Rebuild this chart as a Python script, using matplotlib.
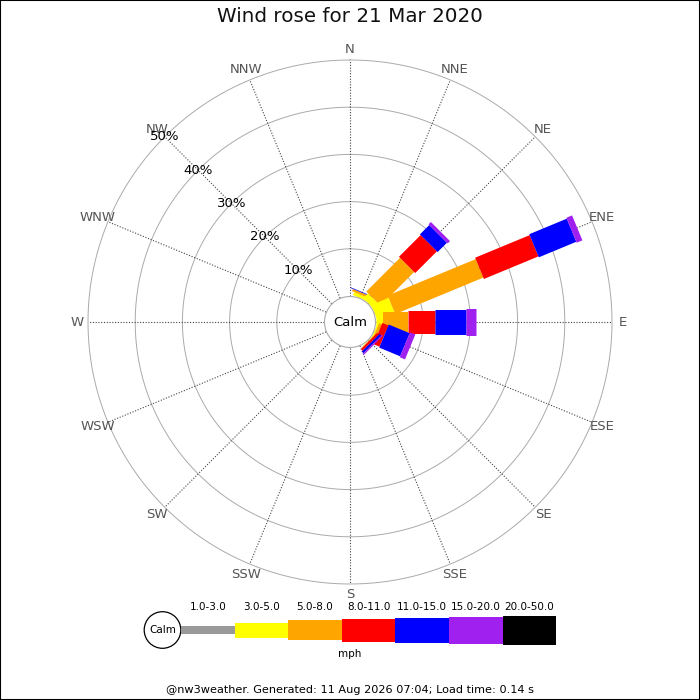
import matplotlib
matplotlib.use("Agg")
import numpy as np
import matplotlib.pyplot as plt
from matplotlib.patches import Rectangle, Circle

# wind rose data (% of time), one list per speed bin, 16 directions from N clockwise
directions = ['N', 'NNE', 'NE', 'ENE', 'E', 'ESE', 'SE', 'SSE',
              'S', 'SSW', 'SW', 'WSW', 'W', 'WNW', 'NW', 'NNW']
speed_bins = ['1.0-3.0', '3.0-5.0', '5.0-8.0', '8.0-11.0',
              '11.0-15.0', '15.0-20.0', '20.0-50.0']
bin_colors = ['#999999', '#ffff00', '#ffa500', '#ff0000',
              '#0000ff', '#a020f0', '#000000']
bin_px = [8, 15, 20, 23, 25, 27, 29]   # bar thickness in pixels

s_1_3   = [0, 0,    0,    0,    0,   0,   0,   0, 0, 0, 0, 0, 0, 0, 0, 0]
s_3_5   = [0, 0.7,  1.5,  4.0,  1.5, 0.3, 0.1, 0, 0, 0, 0, 0, 0, 0, 0, 0]
s_5_8   = [0, 0.5, 10.1, 20.2,  5.3, 0.6, 0.1, 0, 0, 0, 0, 0, 0, 0, 0, 0]
s_8_11  = [0, 0,    6.5, 12.5,  5.8, 1.4, 0.5, 0, 0, 0, 0, 0, 0, 0, 0, 0]
s_11_15 = [0, 0.15, 2.8,  8.6,  6.5, 4.8, 0.5, 0, 0, 0, 0, 0, 0, 0, 0, 0]
s_15_20 = [0, 0,    0.7,  1.3,  2.1, 1.2, 0.3, 0, 0, 0, 0, 0, 0, 0, 0, 0]
s_20_50 = [0, 0,    0,    0,    0,   0,   0,   0, 0, 0, 0, 0, 0, 0, 0, 0]
series = [s_1_3, s_3_5, s_5_8, s_8_11, s_11_15, s_15_20, s_20_50]

ring_pcts = [10, 20, 30, 40, 50]
rmax = 50

fig = plt.figure(figsize=(7, 7), dpi=100)
fig.patches.append(Rectangle((0, 0), 1, 1, transform=fig.transFigure,
                             fill=False, edgecolor='black', lw=1.5))
fig.text(0.5, 1 - 17/700, 'Wind rose for 21 Mar 2020', ha='center', va='center',
         fontsize=14.3, color='#111111')

R = 262  # outer ring radius px
ax = fig.add_axes([(350 - R)/700, (700 - 322 - R)/700, 2*R/700, 2*R/700],
                  projection='polar')
ax.set_theta_zero_location('N')
ax.set_theta_direction(-1)
ax.set_rorigin(-5.5)
ax.set_ylim(0, rmax)
ax.axis('off')

th = np.linspace(0, 2*np.pi, 400)
for p in ring_pcts:
    ax.plot(th, np.full_like(th, p), color='#aaaaaa', lw=0.7, zorder=1,
            clip_on=False)

angles = np.deg2rad(np.arange(16) * 22.5)
for a, name in zip(angles, directions):
    ax.plot([a, a], [0, rmax], color='#444444', lw=0.8,
            linestyle=(0, (1, 1.5)), zorder=1, clip_on=False)
    ax.text(a, rmax + 2.3, name, ha='center', va='center', fontsize=9.5,
            color='#555555')

for p in ring_pcts:
    ax.text(np.deg2rad(315), p, f'{p}%', ha='center', va='center',
            fontsize=9.5, color='black', zorder=5)

# stacked bars drawn as thick radial lines (constant pixel width)
for i, a in enumerate(angles):
    base = 0
    for vals, col, px in zip(series, bin_colors, bin_px):
        v = vals[i]
        if v > 0:
            ax.plot([a, a], [base, base + v], color=col, lw=px*0.72,
                    solid_capstyle='butt', zorder=3)
        base += v

fig.patches.append(Circle((350/700, 1 - 322/700), 25.5/700, transform=fig.transFigure,
                          facecolor='white', edgecolor='#aaaaaa', lw=0.8, zorder=4))
fig.text(350/700, 1 - 322/700, 'Calm', ha='center', va='center', fontsize=9.5,
         zorder=6)

# legend
lg = fig.add_axes([0, 0, 1, 1], facecolor='none')
lg.set_xlim(0, 700)
lg.set_ylim(700, 0)
lg.axis('off')
lg.add_patch(Circle((162.5, 630), 18.3, facecolor='white', edgecolor='black', lw=0.9))
lg.text(162.5, 630, 'Calm', ha='center', va='center', fontsize=7.5)
x0, w = 181, 53.6
for k, (lab, col, px) in enumerate(zip(speed_bins, bin_colors, bin_px)):
    x = x0 + k*w
    lg.add_patch(Rectangle((x, 630 - px/2), w, px, facecolor=col, edgecolor='none'))
    lg.text(x + w/2, 607, lab, ha='center', va='center', fontsize=7.5)
lg.text(350, 654, 'mph', ha='center', va='center', fontsize=7.5)
lg.text(350, 690, '@nw3weather. Generated: 11 Aug 2026 07:04; Load time: 0.14 s',
        ha='center', va='center', fontsize=8.1)

fig.savefig('out.png', dpi=100)
